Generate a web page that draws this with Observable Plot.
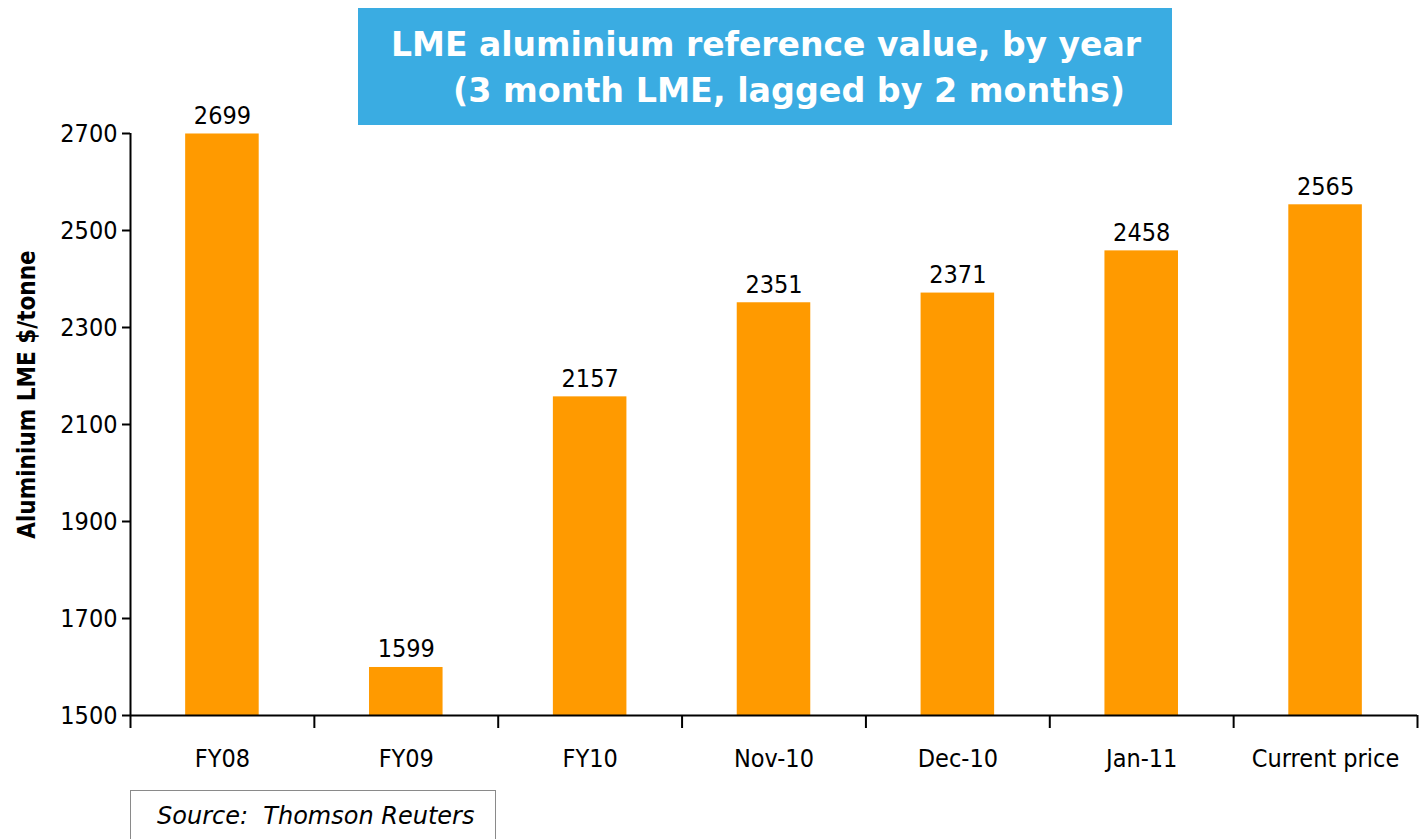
<!DOCTYPE html>
<html>
<head>
<meta charset="utf-8">
<script src="https://cdn.jsdelivr.net/npm/d3@7"></script>
<script src="https://cdn.jsdelivr.net/npm/@observablehq/plot@0.6"></script>
<style>
  body { margin: 0; background: #fff; }
  #wrap { position: relative; width: 1419px; height: 839px; overflow: hidden; font-family: 'DejaVu Sans Condensed', 'DejaVu Sans', sans-serif; }
  #chart { position: absolute; left: 0; top: 0; }
  #title { position: absolute; left: 358px; top: 8px; width: 814px; height: 117px; background: #3AACE2; }
  #source { position: absolute; left: 130px; top: 790px; width: 366px; height: 60px; border: 1.5px solid #8a8a8a; box-sizing: border-box; }
  #source span { position: absolute; left: 26px; top: 11px; font-family: 'DejaVu Sans', sans-serif; font-style: italic; font-size: 24px; color: #000; white-space: pre; }
</style>
</head>
<body>
<div id="wrap">
  <div id="chart"></div>
  <div id="title"></div>
  <div id="source"><span></span></div>
</div>
<script>
const categories = ["FY08", "FY09", "FY10", "Nov-10", "Dec-10", "Jan-11", "Current price"];
const barValues = [2699, 1599, 2157, 2351, 2371, 2458, 2553];
const valueLabels = ["2699", "1599", "2157", "2351", "2371", "2458", "2565"];
const yTicks = [1500, 1700, 1900, 2100, 2300, 2500, 2700];
const yDomain = [1500, 2700];
const titleLines = ["LME aluminium reference value, by year", "(3 month LME, lagged by 2 months)"];
const yLabel = "Aluminium LME $/tonne";
const sourceText = "Source:  Thomson Reuters";

const data = categories.map((c, i) => ({cat: c, value: barValues[i], label: valueLabels[i]}));

const W = 1419, H = 790, mL = 130, mR = 2, mT = 133, mB = 75;
const step = (W - mL - mR) / categories.length;
const font = "'DejaVu Sans Condensed', 'DejaVu Sans', sans-serif";

const chart = Plot.plot({
  width: W, height: H,
  marginTop: mT, marginBottom: mB, marginLeft: mL, marginRight: mR,
  style: {fontFamily: font, fontSize: "25px", color: "#000", background: "transparent", overflow: "visible"},
  x: {domain: categories, paddingInner: 0.6, paddingOuter: 0.3, round: false, label: null},
  y: {domain: yDomain, label: null},
  marks: [
    Plot.barY(data, {x: "cat", y1: () => yDomain[0], y2: "value", fill: "#FF9A00"}),
    Plot.text(data, {x: "cat", y: "value", text: "label", lineAnchor: "bottom", dy: -10, fontSize: 25, fill: "#000"}),
    Plot.ruleY([yDomain[0]], {stroke: "#000", strokeWidth: 2}),
    Plot.ruleX([categories[0]], {dx: -step / 2, stroke: "#000", strokeWidth: 2}),
    Plot.axisY(yTicks, {tickSize: 8, tickPadding: 5, fontSize: 25, tickFormat: d => String(d), label: null, strokeWidth: 2, stroke: "#000"}),
    Plot.axisX({tickSize: 13, dx: -step / 2, tickFormat: () => "", label: null, strokeWidth: 2}),
    Plot.axisX([categories[categories.length - 1]], {tickSize: 13, dx: step / 2, tickFormat: () => "", label: null, strokeWidth: 2}),
    Plot.axisX({tickSize: 0, tickPadding: 34, fontSize: 25, label: null}),
    Plot.text([yLabel], {frameAnchor: "left", textAnchor: "middle", rotate: -90, dx: -103, dy: -30, fontWeight: "bold", fontSize: 24, fill: "#000"})
  ]
});
document.getElementById("chart").appendChild(chart);

// Title
const ns = "http://www.w3.org/2000/svg";
const tsvg = document.createElementNS(ns, "svg");
tsvg.setAttribute("width", 814);
tsvg.setAttribute("height", 117);
const tSpecs = [{x: 33, y: 48, len: 750}, {x: 95, y: 94, len: 672}];
titleLines.forEach((line, i) => {
  const t = document.createElementNS(ns, "text");
  t.textContent = line;
  t.setAttribute("x", tSpecs[i].x);
  t.setAttribute("y", tSpecs[i].y);
  t.setAttribute("textLength", tSpecs[i].len);
  t.setAttribute("lengthAdjust", "spacingAndGlyphs");
  t.setAttribute("fill", "#fff");
  t.setAttribute("font-weight", "bold");
  t.setAttribute("font-size", "34");
  t.setAttribute("font-family", font);
  tsvg.appendChild(t);
});
document.getElementById("title").appendChild(tsvg);
document.querySelector("#source span").textContent = sourceText;
</script>
</body>
</html>
